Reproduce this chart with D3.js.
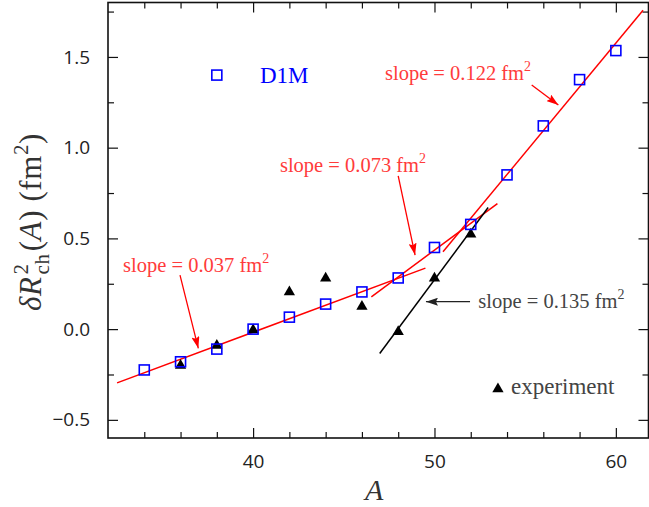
<!DOCTYPE html>
<html>
<head>
<meta charset="utf-8">
<script src="https://cdn.jsdelivr.net/npm/d3@7"></script>
<style>
  body { margin: 0; background: #fff; }
  svg { display: block; }
</style>
</head>
<body>
<div id="chart"></div>
<script>
// --------------- Data --------------- //

// D1M calculation (open squares)
const massNumbers = [34, 36, 38, 40, 42, 44, 46, 48, 50, 52, 54, 56, 58, 60];
const d1mValues = [-0.225, -0.18, -0.11, 0.0, 0.066, 0.138, 0.205, 0.282, 0.45, 0.577, 0.85, 1.12, 1.375, 1.535];

// experiment (filled triangles)
const expMass = [36, 38, 40, 42, 44, 46, 48, 50, 52];
const expValues = [-0.2, -0.09, -0.005, 0.205, 0.28, 0.125, -0.015, 0.28, 0.523];

// fitted lines: [A start, value start, A end, value end]
const fitLines = [
    [32.5, -0.296, 49.5, 0.336],
    [46.52, 0.178, 53.47, 0.692],
    [50.47, 0.426, 61.5, 1.757]
];
const expLine = [46.98, -0.134, 52.96, 0.67];

// slope labels and their arrows (data coordinates)
const slopeLabels = ["0.037", "0.073", "0.122", "0.135"];
const labelAnchors = [[32.83, 0.315], [41.48, 0.868], [47.27, 1.373], [52.42, 0.116]];
const arrowStarts = [[35.97, 0.298], [48.0, 0.844], [55.36, 1.345], [51.96, 0.151]];
const arrowTips = [[36.98, -0.106], [48.93, 0.408], [56.83, 1.235], [49.53, 0.151]];

// axis ticks
const xMajor = [40, 50, 60];
const xMinor = [34, 36, 38, 42, 44, 46, 48, 52, 54, 56, 58];
const yMajor = [-0.5, 0.0, 0.5, 1.0, 1.5];
const yMinor = [-0.25, 0.25, 0.75, 1.25, 1.75];

// --------------- Basic Setup --------------- //

const width = 649,
    height = 507;

const svg = d3.select("#chart")
    .append("svg")
    .attr("width", width)
    .attr("height", height);

const x = d3.scaleLinear().domain([32, 61.8]).range([108, 648.5]);
const y = d3.scaleLinear().domain([-0.6, 1.8]).range([438, 2.5]);

const red = "#ff0000",
    blue = "#0000ff",
    textRed = "#ff3b3b",
    dark = "#333";

// arrow heads
const defs = svg.append("defs");
[["arrRed", red], ["arrDark", "#222"]].forEach(([id, c]) => {
    defs.append("marker")
        .attr("id", id)
        .attr("viewBox", "0 0 12 8")
        .attr("refX", 12).attr("refY", 4)
        .attr("markerWidth", 12).attr("markerHeight", 8)
        .attr("markerUnits", "userSpaceOnUse")
        .attr("orient", "auto")
        .append("path")
        .attr("d", "M0,0 L12,4 L0,8 L2,4 Z")
        .attr("fill", c);
});

// --------------- Axes --------------- //

const labelFont = "'Open Sans', 'Noto Sans', sans-serif";

function styleAxis(g) {
    g.select(".domain").remove();
    g.selectAll("line").attr("stroke", "#111").attr("stroke-width", 1.2);
    g.selectAll("text").attr("font-family", labelFont).attr("font-size", 19).attr("fill", "#222");
}

svg.append("g")
    .attr("transform", `translate(0,${y.range()[0]})`)
    .call(d3.axisBottom(x).tickValues(xMajor).tickSize(-10).tickPadding(17).tickFormat(d3.format("d")))
    .call(styleAxis);
svg.append("g")
    .attr("transform", `translate(0,${y.range()[0]})`)
    .call(d3.axisBottom(x).tickValues(xMinor).tickSize(-6).tickFormat(""))
    .call(styleAxis);
svg.append("g")
    .attr("transform", `translate(0,${y.range()[1]})`)
    .call(d3.axisTop(x).tickValues(xMajor).tickSize(-10).tickFormat(""))
    .call(styleAxis);
svg.append("g")
    .attr("transform", `translate(0,${y.range()[1]})`)
    .call(d3.axisTop(x).tickValues(xMinor).tickSize(-6).tickFormat(""))
    .call(styleAxis);

svg.append("g")
    .attr("transform", `translate(${x.range()[0]},0)`)
    .call(d3.axisLeft(y).tickValues(yMajor).tickSize(-10).tickPadding(18).tickFormat(d3.format(".1f")))
    .call(styleAxis);
svg.append("g")
    .attr("transform", `translate(${x.range()[0]},0)`)
    .call(d3.axisLeft(y).tickValues(yMinor).tickSize(-6).tickFormat(""))
    .call(styleAxis);
svg.append("g")
    .attr("transform", `translate(${x.range()[1]},0)`)
    .call(d3.axisRight(y).tickValues(yMajor).tickSize(-10).tickFormat(""))
    .call(styleAxis);
svg.append("g")
    .attr("transform", `translate(${x.range()[1]},0)`)
    .call(d3.axisRight(y).tickValues(yMinor).tickSize(-6).tickFormat(""))
    .call(styleAxis);

// frame
svg.append("rect")
    .attr("x", x.range()[0])
    .attr("y", y.range()[1])
    .attr("width", x.range()[1] - x.range()[0])
    .attr("height", y.range()[0] - y.range()[1])
    .attr("fill", "none")
    .attr("stroke", "#111")
    .attr("stroke-width", 1.6);

// axis titles
svg.append("text")
    .attr("x", (x.range()[0] + x.range()[1]) / 2 - 4)
    .attr("y", 500)
    .attr("text-anchor", "middle")
    .attr("font-family", "'Liberation Serif', serif")
    .attr("font-style", "italic")
    .attr("font-size", 30)
    .attr("fill", dark)
    .text("A");

const yTitle = svg.append("text")
    .attr("transform", "translate(41,222) rotate(-90)")
    .attr("text-anchor", "middle")
    .attr("font-family", "'Liberation Serif', serif")
    .attr("font-size", 31)
    .attr("letter-spacing", 0.6)
    .attr("fill", dark);
yTitle.append("tspan").attr("font-style", "italic").text("δR");
yTitle.append("tspan").attr("font-size", 21).attr("dy", -13).attr("dx", 2).text("2");
yTitle.append("tspan").attr("font-size", 21).attr("dx", -11).attr("dy", 21).text("ch");
yTitle.append("tspan").attr("dy", -8).attr("dx", 2).text("(");
yTitle.append("tspan").attr("font-style", "italic").text("A");
yTitle.append("tspan").text(")  (fm");
yTitle.append("tspan").attr("font-size", 21).attr("dy", -13).text("2");
yTitle.append("tspan").attr("dy", 13).text(")");

// --------------- Lines --------------- //

const plot = svg.append("g");

plot.selectAll("line.fit")
    .data(fitLines)
    .join("line")
    .attr("class", "fit")
    .attr("x1", d => x(d[0])).attr("y1", d => y(d[1]))
    .attr("x2", d => x(d[2])).attr("y2", d => y(d[3]))
    .attr("stroke", red)
    .attr("stroke-width", 1.5);

plot.append("line")
    .attr("x1", x(expLine[0])).attr("y1", y(expLine[1]))
    .attr("x2", x(expLine[2])).attr("y2", y(expLine[3]))
    .attr("stroke", "#000")
    .attr("stroke-width", 1.5);

// --------------- Markers --------------- //

const tri = d3.symbol(d3.symbolTriangle, 55);

plot.selectAll("path.exp")
    .data(expMass.map((a, i) => [a, expValues[i]]))
    .join("path")
    .attr("class", "exp")
    .attr("d", tri)
    .attr("transform", d => `translate(${x(d[0])},${y(d[1])})`)
    .attr("fill", "#000");

const sq = 10;
plot.selectAll("rect.d1m")
    .data(massNumbers.map((a, i) => [a, d1mValues[i]]))
    .join("rect")
    .attr("class", "d1m")
    .attr("x", d => x(d[0]) - sq / 2)
    .attr("y", d => y(d[1]) - sq / 2)
    .attr("width", sq).attr("height", sq)
    .attr("fill", "none")
    .attr("stroke", blue)
    .attr("stroke-width", 1.6);

// --------------- Annotations --------------- //

const serif = "'Liberation Serif', 'Times New Roman', serif";

slopeLabels.forEach((s, i) => {
    const c = i === 3 ? "#444" : textRed;
    plot.append("line")
        .attr("x1", x(arrowStarts[i][0])).attr("y1", y(arrowStarts[i][1]))
        .attr("x2", x(arrowTips[i][0])).attr("y2", y(arrowTips[i][1]))
        .attr("stroke", i === 3 ? "#222" : red)
        .attr("stroke-width", 1.3)
        .attr("marker-end", i === 3 ? "url(#arrDark)" : "url(#arrRed)");

    const t = plot.append("text")
        .attr("x", x(labelAnchors[i][0]))
        .attr("y", y(labelAnchors[i][1]))
        .attr("font-family", serif)
        .attr("font-size", 20.5)
        .attr("fill", c);
    t.append("tspan").text(`slope = ${s} fm`);
    t.append("tspan").attr("font-size", 14).attr("dy", -9).text("2");
});

// legend: D1M
plot.append("rect")
    .attr("x", x(38) - sq / 2)
    .attr("y", y(1.4) - sq / 2)
    .attr("width", sq).attr("height", sq)
    .attr("fill", "none")
    .attr("stroke", blue)
    .attr("stroke-width", 1.6);
plot.append("text")
    .attr("x", x(40.38)).attr("y", y(1.355))
    .attr("font-family", serif)
    .attr("font-size", 23)
    .attr("fill", blue)
    .text("D1M");

// legend: experiment
plot.append("path")
    .attr("d", d3.symbol(d3.symbolTriangle, 55))
    .attr("transform", `translate(${x(53.5)},${y(-0.33)})`)
    .attr("fill", "#000");
plot.append("text")
    .attr("x", x(54.22)).attr("y", y(-0.357))
    .attr("font-family", serif)
    .attr("font-size", 23)
    .attr("fill", "#444")
    .text("experiment");
</script>
</body>
</html>
